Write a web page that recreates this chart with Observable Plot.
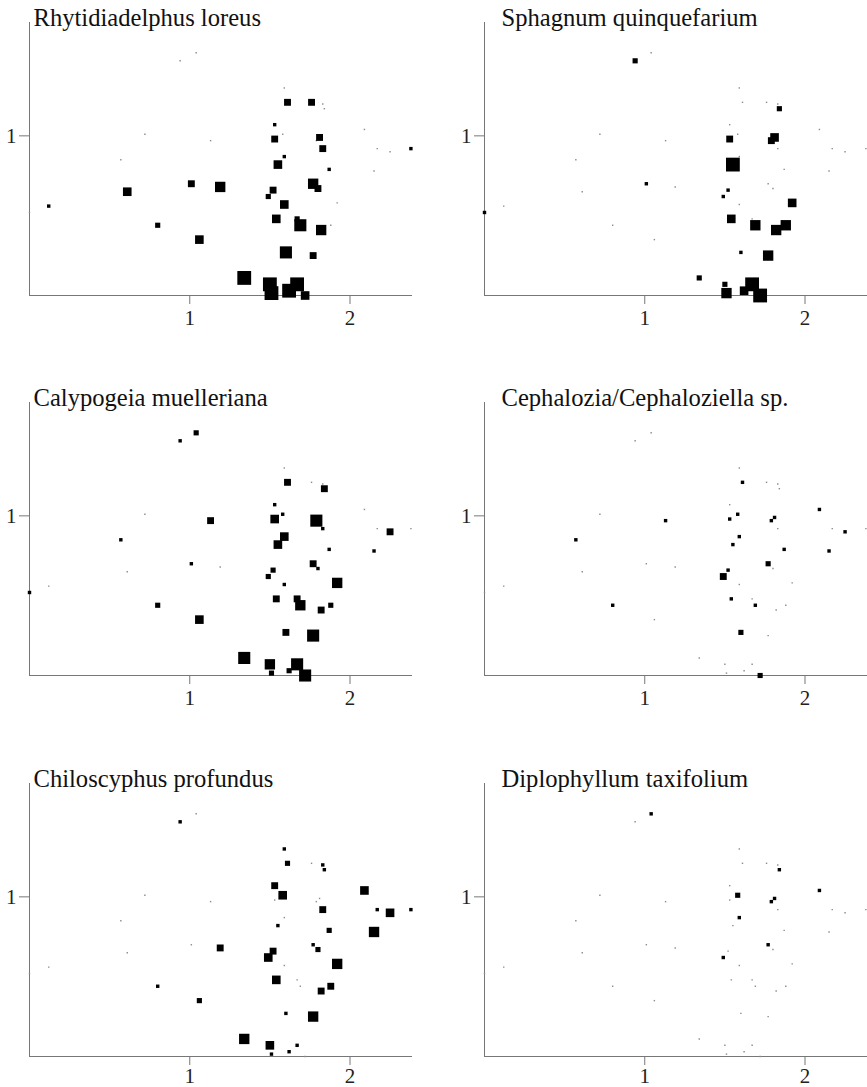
<!DOCTYPE html>
<html>
<head>
<meta charset="utf-8">
<script src="https://cdn.jsdelivr.net/npm/d3@7"></script>
<script src="https://cdn.jsdelivr.net/npm/@observablehq/plot@0.6"></script>
<style>
  html, body { margin: 0; padding: 0; background: #fff; overflow: hidden; }
  #grid { position: relative; width: 867px; height: 1087px; overflow: hidden; }
  .panel { position: absolute; width: 433px; height: 380px; }
  .panel svg { display: block; overflow: visible; max-width: none !important; }
</style>
</head>
<body>
<div id="grid"></div>
<script>
// Ordination scores of the sampling plots (axis 1, axis 2)
const siteX = [1.04, 0.94, 1.59, 1.61, 1.76, 1.83, 1.84, 1.53, 1.58, 1.53,
               0.72, 1.13, 2.09, 1.79, 1.81, 1.83, 2.17, 2.25, 2.38, 0.57,
               1.59, 1.55, 1.87, 2.15, 1.01, 1.19, 1.77, 1.80, 1.52, 1.49,
               0.61, 0.12, 0.00, 1.59, 1.92, 1.54, 1.67, 1.69, 1.88, 1.82,
               0.80, 1.06, 1.60, 1.77, 1.34, 1.50, 1.67, 1.51, 1.62, 1.72];
const siteY = [1.52, 1.47, 1.30, 1.21, 1.21, 1.20, 1.17, 1.07, 1.01, 0.98,
               1.01, 0.97, 1.04, 0.97, 0.99, 0.92, 0.92, 0.90, 0.92, 0.85,
               0.87, 0.82, 0.79, 0.78, 0.70, 0.68, 0.70, 0.67, 0.66, 0.62,
               0.65, 0.56, 0.52, 0.57, 0.58, 0.48, 0.48, 0.44, 0.44, 0.41,
               0.44, 0.35, 0.27, 0.25, 0.11, 0.07, 0.07, 0.015, 0.03, 0.00];

// Cover class of each species in each plot (0 = absent)
const rhytidiadelphusLoreus = [0, 0, 0, 3, 3, 0, 0, 1, 0, 3,
                               0, 0, 0, 0, 3, 3, 0, 0, 1, 0,
                               1, 4, 1, 0, 3, 5, 5, 3, 3, 2,
                               4, 1, 0, 4, 0, 4, 2, 6, 0, 5,
                               2, 4, 6, 3, 7, 7, 7, 7, 7, 4];
const sphagnumQuinquefarium = [0, 2, 0, 0, 0, 0, 2, 0, 0, 3,
                               0, 0, 0, 3, 4, 0, 0, 0, 0, 0,
                               0, 7, 0, 0, 1, 0, 0, 0, 1, 1,
                               0, 0, 1, 0, 4, 4, 0, 5, 5, 5,
                               0, 0, 1, 5, 2, 2, 7, 5, 4, 7];
const calypogeiaMuelleriana = [2, 1, 0, 3, 0, 0, 3, 1, 1, 4,
                               0, 3, 0, 6, 0, 1, 0, 3, 0, 1,
                               4, 4, 1, 1, 1, 0, 3, 1, 2, 2,
                               0, 0, 1, 1, 5, 3, 3, 5, 2, 3,
                               2, 4, 3, 6, 6, 5, 6, 2, 2, 6];
const cephaloziaSp = [0, 0, 0, 1, 0, 0, 0, 0, 1, 1,
                      0, 1, 1, 1, 1, 0, 0, 1, 0, 1,
                      1, 1, 1, 1, 0, 0, 2, 0, 1, 3,
                      0, 0, 0, 0, 0, 1, 0, 1, 0, 0,
                      1, 0, 2, 0, 0, 0, 0, 0, 0, 2];
const chiloscyphusProfundus = [0, 1, 1, 2, 0, 1, 1, 3, 4, 0,
                               0, 0, 4, 0, 0, 3, 1, 4, 1, 0,
                               0, 1, 2, 5, 0, 3, 1, 2, 3, 4,
                               0, 0, 0, 0, 5, 4, 0, 0, 3, 3,
                               1, 2, 1, 5, 5, 4, 1, 1, 1, 0];
const diplophyllumTaxifolium = [1, 0, 0, 0, 0, 0, 1, 0, 2, 0,
                                0, 0, 1, 1, 1, 0, 0, 0, 0, 0,
                                1, 0, 0, 0, 0, 0, 1, 0, 0, 1,
                                0, 0, 0, 0, 0, 0, 0, 0, 0, 0,
                                0, 0, 0, 0, 0, 0, 0, 0, 0, 0];

const speciesNames = ["Rhytidiadelphus loreus", "Sphagnum quinquefarium",
                      "Calypogeia muelleriana", "Cephalozia/Cephaloziella sp.",
                      "Chiloscyphus profundus", "Diplophyllum taxifolium"];
const speciesCover = [rhytidiadelphusLoreus, sphagnumQuinquefarium,
                      calypogeiaMuelleriana, cephaloziaSp,
                      chiloscyphusProfundus, diplophyllumTaxifolium];

const xTicks = [1, 2];
const yTicks = [1];
const maxClass = 7;

const font = "'Liberation Serif', 'Times New Roman', serif";
const grid = document.getElementById("grid");

// panel placement: two columns, three rows
const colLeft = [0, 455];
const rowTop = [0, 380, 760.5];
const titleDx = [4, 17];
const xLabelPad = [6, 6, 3];

speciesNames.forEach((name, k) => {
  const col = k % 2, row = Math.floor(k / 2);
  const rows = siteX.map((x, i) => ({x, y: siteY[i], cover: speciesCover[k][i]}));

  const chart = Plot.plot({
    width: 433,
    height: 380,
    marginLeft: 29,
    marginRight: 21,
    marginTop: 22,
    marginBottom: 85,
    x: {domain: [0, 2.39], label: null},
    y: {domain: [0, 1.71], label: null},
    r: {type: "linear", domain: [0, maxClass], range: [0.95, 7.8]},
    style: {fontFamily: font, color: "#222", background: "transparent"},
    marks: [
      Plot.ruleY([0], {stroke: "#777", strokeWidth: 1}),
      Plot.ruleX([0], {stroke: "#777", strokeWidth: 1}),
      Plot.axisX({ticks: xTicks, tickSize: 9, tickPadding: xLabelPad[row], fontSize: 21,
                  stroke: "#777", fill: "#222", label: null, tickFormat: d => String(d)}),
      Plot.axisY({ticks: yTicks, tickSize: 10, tickPadding: 3, fontSize: 21,
                  stroke: "#777", fill: "#222", label: null, tickFormat: d => String(d)}),
      // absent: faint marker at the plot position
      Plot.dot(rows.filter(d => d.cover === 0),
               {x: "x", y: "y", r: 0.8, symbol: "square", fill: "#8c8c8c", stroke: null}),
      // present: square sized by cover class
      Plot.dot(rows.filter(d => d.cover > 0),
               {x: "x", y: "y", r: "cover", symbol: "square", fill: "#000", stroke: null}),
      Plot.text([name], {frameAnchor: "top-left", dx: titleDx[col], dy: 3,
                         lineAnchor: "bottom", textAnchor: "start",
                         fontSize: 24.6, fill: "#111", fontFamily: font})
    ]
  });

  const holder = document.createElement("div");
  holder.className = "panel";
  holder.style.left = colLeft[col] + "px";
  holder.style.top = rowTop[row] + "px";
  holder.appendChild(chart);
  grid.appendChild(holder);
});
</script>
</body>
</html>
